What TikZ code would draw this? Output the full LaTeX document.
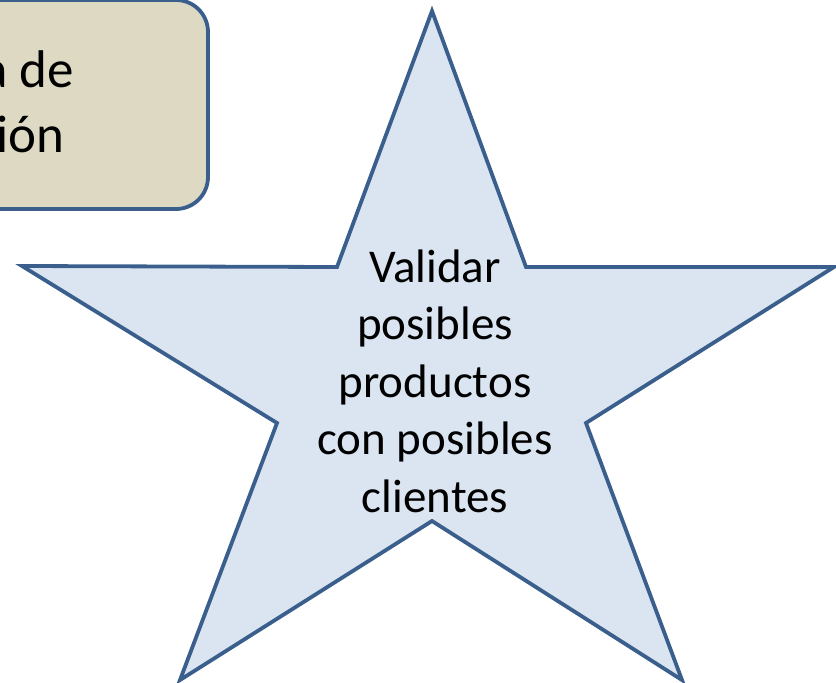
\documentclass[tikz,border=0pt]{standalone}
\usepackage{fontspec}
\setmainfont{Carlito}
\definecolor{starfill}{HTML}{DBE5F1}
\definecolor{edgeblue}{HTML}{3A5F8D}
\definecolor{boxfill}{HTML}{DDD9C3}
\begin{document}
\begin{tikzpicture}[x=1pt,y=-1pt,
  shapeline/.style={draw=edgeblue,line width=3.8pt,line join=miter},
  boxtext/.style={font=\fontsize{53}{65}\selectfont,inner sep=0pt,text=black},
  startext/.style={font=\fontsize{47}{57.5}\selectfont,align=center,inner sep=0pt,text=black}]
\useasboundingbox (0,0) rectangle (836,683);
\clip (0,0) rectangle (836,683);
% rounded box, cut by the left and top edges
\draw[shapeline,fill=boxfill,rounded corners=32pt] (-60,0) rectangle (208,209);
\node[boxtext,anchor=base east] (boxa) at (74,87) {a de};
\node[boxtext,anchor=base east] (boxb) at (65,152) {ión};
% star
\draw[shapeline,fill=starfill]
  (432,11) -- (526,267) -- (834,267) -- (586,423) -- (682,680)
  -- (432,521) -- (180,680) -- (277,423) -- (22,266) -- (337,267) -- cycle;
\node[startext] (star) at (435,381) {Validar\\posibles\\productos\\con posibles\\clientes};
\end{tikzpicture}
\end{document}
